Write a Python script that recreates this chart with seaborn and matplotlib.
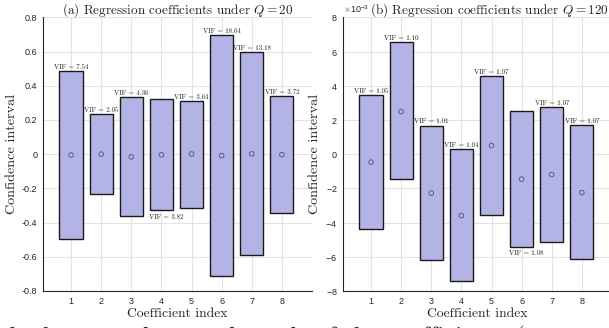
import numpy as np
import pandas as pd
import seaborn as sns
import matplotlib
matplotlib.use("Agg")
from matplotlib import pyplot as plt
from matplotlib.ticker import ScalarFormatter

# values
coef_idx = [1, 2, 3, 4, 5, 6, 7, 8]

q20_upper = [0.486, 0.234, 0.333, 0.321, 0.313, 0.698, 0.596, 0.339]
q20_lower = [-0.495, -0.234, -0.364, -0.329, -0.312, -0.715, -0.592, -0.345]
q20_center = [-0.005, 0.0, -0.016, -0.004, 0.001, -0.008, 0.002, -0.003]
q20_vif = ['7.54', '2.05', '4.36', '3.82', '3.64', '18.64', '13.18', '3.72']
q20_vif_below = [False, False, False, True, False, False, False, False]

# Q = 120, in units of 1e-3
q120_upper = [3.43, 6.53, 1.67, 0.31, 4.54, 2.55, 2.75, 1.71]
q120_lower = [-4.37, -1.48, -6.18, -7.43, -3.55, -5.44, -5.11, -6.14]
q120_center = [-0.47, 2.49, -2.28, -3.59, 0.50, -1.46, -1.19, -2.25]
q120_vif = ['1.05', '1.10', '1.01', '1.04', '1.07', '1.08', '1.07', '1.07']
q120_vif_below = [False, False, False, False, False, True, False, False]

sns.set_style('white')
plt.rcParams['axes.unicode_minus'] = False
plt.rcParams['mathtext.fontset'] = 'cm'
plt.rcParams['font.family'] = ['Liberation Sans', 'DejaVu Sans']

bar_col = '#b3b3e6'
serif = 'cmr10'

fig = plt.figure(figsize=(6.09, 3.28), dpi=100)
axL = fig.add_axes([43/609, 1-291/328, 269/609, 273.7/328])
axR = fig.add_axes([343/609, 1-291/328, 269/609, 273.7/328])


def draw_panel(ax, upper, lower, center, vif, below, scale, lim, step, title, title_x):
    df = pd.DataFrame({'idx': coef_idx,
                       'lower': np.array(lower) * scale,
                       'upper': np.array(upper) * scale,
                       'center': np.array(center) * scale})
    df['h'] = df['upper'] - df['lower']
    sns.barplot(data=df, x='idx', y='h', bottom=df['lower'].values, native_scale=True,
                width=0.77, color=bar_col, saturation=1, edgecolor='#1a1a1a',
                linewidth=1.0, errorbar=None, ax=ax, zorder=2)
    sns.scatterplot(data=df, x='idx', y='center', marker='o', s=11,
                    facecolor='none', edgecolor='#5a5a96', linewidth=0.7, ax=ax, zorder=3)
    gap = 0.008 * lim * scale
    for i, x in enumerate(coef_idx):
        if below[i]:
            ax.text(x + 0.15, df['lower'][i] - 3*gap, 'VIF = ' + vif[i], ha='center', va='top',
                    fontsize=5, family=serif, color='#222222')
        else:
            ax.text(x, df['upper'][i] + gap, 'VIF = ' + vif[i], ha='center', va='bottom',
                    fontsize=5, family=serif, color='#222222')
    ax.set_xlim(0.07, 9)
    ax.set_ylim(-lim*scale, lim*scale)
    ax.set_xticks(coef_idx)
    ax.set_yticks(np.arange(-lim, lim + step/2, step)*scale)
    ax.grid(True, color='#e3e3e3', linewidth=0.8, zorder=0)
    ax.set_axisbelow(True)
    for s in ['top', 'right']:
        ax.spines[s].set_visible(False)
    for s in ['left', 'bottom']:
        ax.spines[s].set_color('#262626')
        ax.spines[s].set_linewidth(0.8)
    ax.tick_params(direction='in', length=3, width=0.6, labelsize=6.5, colors='#262626', pad=4)
    ax.set_xlabel('Coefficient index', family=serif, fontsize=9.8, labelpad=2)
    ax.set_ylabel('Confidence interval', family=serif, fontsize=10.2, labelpad=3)
    # title placed by hand so it is not pushed up by the offset text
    ax.text(title_x, 1.013, title, transform=ax.transAxes, family=serif, fontsize=9.5,
            ha='center', va='baseline')


draw_panel(axL, q20_upper, q20_lower, q20_center, q20_vif, q20_vif_below, 1.0, 0.8, 0.2,
           r'(a) Regression coefficients under $Q = 20$', 0.5)
axL.set_yticklabels(['-0.8', '-0.6', '-0.4', '-0.2', '0', '0.2', '0.4', '0.6', '0.8'])

draw_panel(axR, q120_upper, q120_lower, q120_center, q120_vif, q120_vif_below, 1e-3, 8, 2,
           r'(b) Regression coefficients under $Q = 120$', 0.545)
fmt = ScalarFormatter(useMathText=True)
fmt.set_powerlimits((-2, 2))
axR.yaxis.set_major_formatter(fmt)
axR.yaxis.get_offset_text().set_fontsize(6.5)
axR.yaxis.get_offset_text().set_color('#262626')

# caption line of the page, cut off at the bottom of the crop
fig.text(0.0, -0.049, 'the lower and upper bounds of the coefficients (',
         family=serif, fontsize=18, va='baseline', ha='left')

fig.savefig('out.png', dpi=100)
